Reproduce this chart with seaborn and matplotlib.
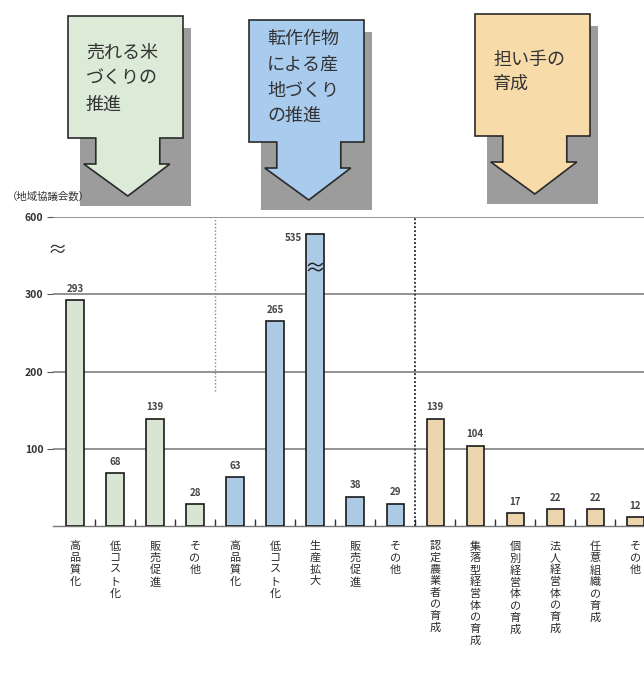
import numpy as np
import pandas as pd
import matplotlib
matplotlib.use("Agg")
import matplotlib.pyplot as plt
from matplotlib.patches import Polygon, Rectangle
import seaborn as sns

# data
groups = ["米", "米", "米", "米",
          "転作", "転作", "転作", "転作", "転作",
          "担い手", "担い手", "担い手", "担い手", "担い手", "担い手"]
labels = ["高品質化", "低コスト化", "販売促進", "その他",
          "高品質化", "低コスト化", "生産拡大", "販売促進", "その他",
          "認定農業者の育成", "集落型経営体の育成", "個別経営体の育成",
          "法人経営体の育成", "任意組織の育成", "その他"]
values = [293, 68, 139, 28, 63, 265, 535, 38, 29, 139, 104, 17, 22, 22, 12]
ytick_vals = [100, 200, 300, 600]
box_titles = ["売れる米\nづくりの\n推進", "転作作物\nによる産\n地づくり\nの推進", "担い手の\n育成"]

colors = {"米": "#d6e8d0", "転作": "#a3c9ee", "担い手": "#f6d8a2"}

sns.set_theme(style="white")
plt.rcParams["font.family"] = ["Noto Sans CJK JP", "DejaVu Sans"]

W, H = 644, 689
fig = plt.figure(figsize=(W / 100, H / 100), dpi=100)

# axes placed in pixel terms
left_px, right_px, base_px, top_px = 53, 644, 526, 217
ax = fig.add_axes([left_px / W, (H - base_px) / H,
                   (right_px - left_px) / W, (base_px - top_px) / H])

df = pd.DataFrame({"key": [f"{i:02d}" for i in range(len(values))],
                   "value": values, "group": groups})

sns.barplot(data=df, x="key", y="value", hue="group", order=df["key"],
            palette=colors, dodge=False, width=0.43, edgecolor="#1a1a1a",
            linewidth=1.2, legend=False, ax=ax, zorder=3)


# broken axis: above 300 compressed by 3
def fwd(y):
    y = np.asarray(y, dtype=float)
    return np.where(y <= 300, y, 300 + (y - 300) / 3)


def inv(z):
    z = np.asarray(z, dtype=float)
    return np.where(z <= 300, z, 300 + (z - 300) * 3)


ax.set_yscale("function", functions=(fwd, inv))
ax.set_ylim(0, 600)
ax.set_xlim(-0.55, 14.22)

ax.set_yticks(ytick_vals)
ax.set_yticklabels([str(v) for v in ytick_vals], fontsize=7.5, color="#333333",
                   fontweight="bold")
ax.yaxis.grid(True, color="#8a8a8a", linewidth=1.3, zorder=0)
ax.tick_params(axis="y", length=4, width=0.8, color="#555555", left=True, pad=3)

ax.set_xticks(range(len(labels)))
ax.set_xticklabels(["\n".join(l) for l in labels], fontsize=8, color="#2a2a2a",
                   linespacing=1.2, va="top")
ax.tick_params(axis="x", length=0, pad=11)
ax.set_xticks([i + 0.5 for i in range(len(labels) - 1)], minor=True)
ax.tick_params(axis="x", which="minor", direction="in", length=5, width=1.0,
               color="#333333", bottom=True)
ax.set_xlabel("")
ax.set_ylabel("")

for s in ["top", "right", "left"]:
    ax.spines[s].set_visible(False)
ax.spines["bottom"].set_color("#777777")
ax.spines["bottom"].set_linewidth(1.0)

# group separators
ax.vlines(3.5, 175, 600, colors="#888888", linestyles=(0, (1, 1.5)), linewidth=1.0, zorder=2)
ax.vlines(8.5, 0, 600, colors="#222222", linestyles=(0, (1, 1.2)), linewidth=1.3, zorder=2)

# value labels
for i, v in enumerate(values):
    if v > 500:
        ax.text(i - 0.32, v - 15, str(v), ha="right", va="center", fontsize=7,
                color="#444444", fontweight="bold")
        ax.text(i, 400, "≈", ha="center", va="center", fontsize=15,
                color="#222222", zorder=5)
    else:
        ax.text(i, v + 8, str(v), ha="center", va="bottom", fontsize=7,
                color="#444444", fontweight="bold")

# break mark on y axis
ax.text(0.007, 470, "≈", transform=ax.get_yaxis_transform(), ha="center",
        va="center", fontsize=14, color="#333333", clip_on=False)

fig.text(7 / W, 1 - 197 / H, "（地域協議会数）", fontsize=7.5, color="#333333",
         va="center", ha="left")

# top arrow boxes
deco = fig.add_axes([0, 0, 1, 1], facecolor="none")
deco.set_xlim(0, W)
deco.set_ylim(H, 0)
deco.axis("off")

box_lefts = [68, 249, 475]
box_tops = [16, 20, 14]
box_cols = ["#dcebd8", "#a8cbee", "#f7dcaa"]
text_tops = [44, 30, 51]
text_spacing = [1.55, 1.55, 1.4]
for bl, bt, bc, title, tt, ls in zip(box_lefts, box_tops, box_cols, box_titles,
                                     text_tops, text_spacing):
    bw, bh = 115, 122
    deco.add_patch(Rectangle((bl + 12, bt + 12), bw - 4, 178, facecolor="#9c9c9c",
                             edgecolor="none", zorder=1))
    cx = bl + bw * 0.52
    shape = [(bl, bt), (bl + bw, bt), (bl + bw, bt + bh),
             (cx + 32, bt + bh), (cx + 32, bt + bh + 26), (cx + 42, bt + bh + 26),
             (cx, bt + bh + 58), (cx - 44, bt + bh + 26), (cx - 32, bt + bh + 26),
             (cx - 32, bt + bh)]
    shape.append((bl, bt + bh))
    deco.add_patch(Polygon(shape, closed=True, facecolor=bc, edgecolor="#2a2a2a",
                           linewidth=1.2, zorder=2))
    deco.text(bl + 18, tt, title, fontsize=13, color="#333333",
              ha="left", va="top", linespacing=ls, zorder=3)

fig.savefig("out.png", dpi=100)
